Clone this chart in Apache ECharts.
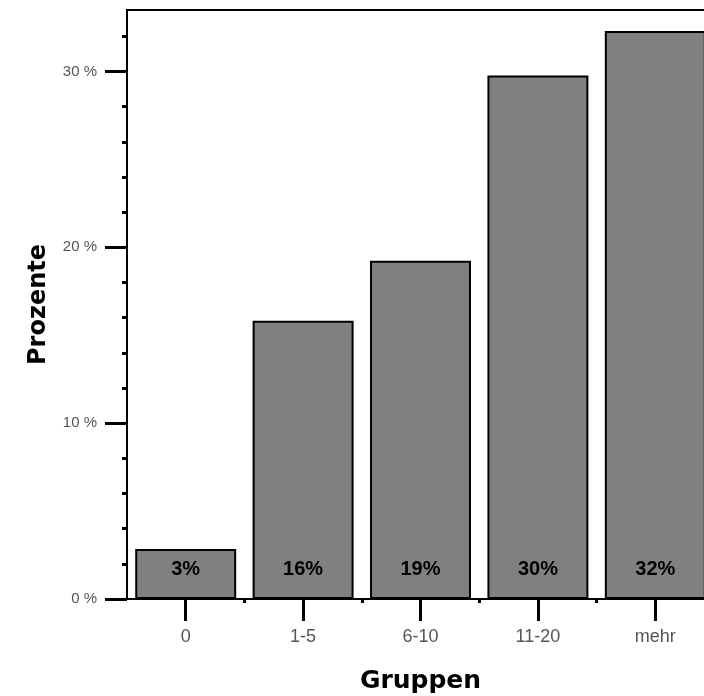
<!DOCTYPE html>
<html>
<head>
<meta charset="utf-8">
<script src="https://cdn.jsdelivr.net/npm/echarts@6/dist/echarts.min.js"></script>
<style>
html,body{margin:0;padding:0;background:#fff;}
#chart{width:704px;height:696px;}
</style>
</head>
<body>
<div id="chart"></div>
<script>
const categories = ['0', '1-5', '6-10', '11-20', 'mehr'];
const values = [2.85, 15.83, 19.24, 29.77, 32.3];
const majorTicks = [0, 10, 20, 30];
const minorTicks = [2, 4, 6, 8, 12, 14, 16, 18, 22, 24, 26, 28, 32];
const centerTicks = [0.5, 1.5, 2.5, 3.5, 4.5];
const boundaryTicks = [1, 2, 3, 4];

const chart = echarts.init(document.getElementById('chart'));
chart.setOption({
  animation: false,
  backgroundColor: '#fff',
  grid: {
    left: 127, top: 10, width: 587, bottom: 97,
    outerBoundsMode: 'none',
    containLabel: false,
    show: true, borderColor: '#000', borderWidth: 2, backgroundColor: 'transparent'
  },
  xAxis: [{
    type: 'category',
    data: categories,
    name: 'Gruppen',
    nameLocation: 'middle',
    nameGap: 70,
    nameTextStyle: { fontFamily: 'DejaVu Sans', fontWeight: 'bold', fontSize: 25, color: '#000' },
    axisLine: { onZero: false, lineStyle: { color: '#000', width: 2 } },
    axisTick: { show: false },
    axisLabel: { margin: 29, fontFamily: 'Liberation Sans', fontSize: 18, color: '#555' },
    splitLine: { show: false }
  }, {
    type: 'value',
    position: 'bottom',
    min: 0, max: 5,
    axisLine: { show: false, onZero: false },
    axisTick: { show: true, length: 22, customValues: centerTicks, lineStyle: { color: '#000', width: 3 } },
    axisLabel: { show: false },
    splitLine: { show: false }
  }, {
    type: 'value',
    position: 'bottom',
    min: 0, max: 5,
    axisLine: { show: false, onZero: false },
    axisTick: { show: true, length: 4, customValues: boundaryTicks, lineStyle: { color: '#000', width: 3 } },
    axisLabel: { show: false },
    splitLine: { show: false }
  }],
  yAxis: [{
    type: 'value',
    min: 0, max: 33.5, interval: 10,
    name: 'Prozente',
    nameLocation: 'middle',
    nameGap: 76,
    nameRotate: 90,
    nameTextStyle: { fontFamily: 'DejaVu Sans', fontWeight: 'bold', fontSize: 24, color: '#000' },
    axisLine: { show: true, onZero: false, lineStyle: { color: '#000', width: 2 } },
    axisTick: { show: true, length: 22, customValues: majorTicks, lineStyle: { color: '#000', width: 3 } },
    axisLabel: {
      customValues: majorTicks,
      margin: 30, fontFamily: 'Liberation Sans', fontSize: 15, color: '#555',
      formatter: v => v + ' %'
    },
    splitLine: { show: false }
  }, {
    type: 'value',
    position: 'left',
    min: 0, max: 33.5,
    axisLine: { show: false, onZero: false },
    axisTick: { show: true, length: 5, customValues: minorTicks, lineStyle: { color: '#000', width: 3 } },
    axisLabel: { show: false },
    splitLine: { show: false }
  }],
  series: [{
    type: 'bar',
    data: values,
    xAxisIndex: 0,
    yAxisIndex: 0,
    barCategoryGap: '14%',
    itemStyle: { color: '#808080', borderColor: '#000', borderWidth: 2 },
    label: {
      show: true,
      position: 'insideBottom',
      distance: 20,
      fontFamily: 'Liberation Sans', fontWeight: 'bold', fontSize: 20, color: '#000',
      formatter: p => Math.round(p.value) + '%'
    }
  }]
});
</script>
</body>
</html>
